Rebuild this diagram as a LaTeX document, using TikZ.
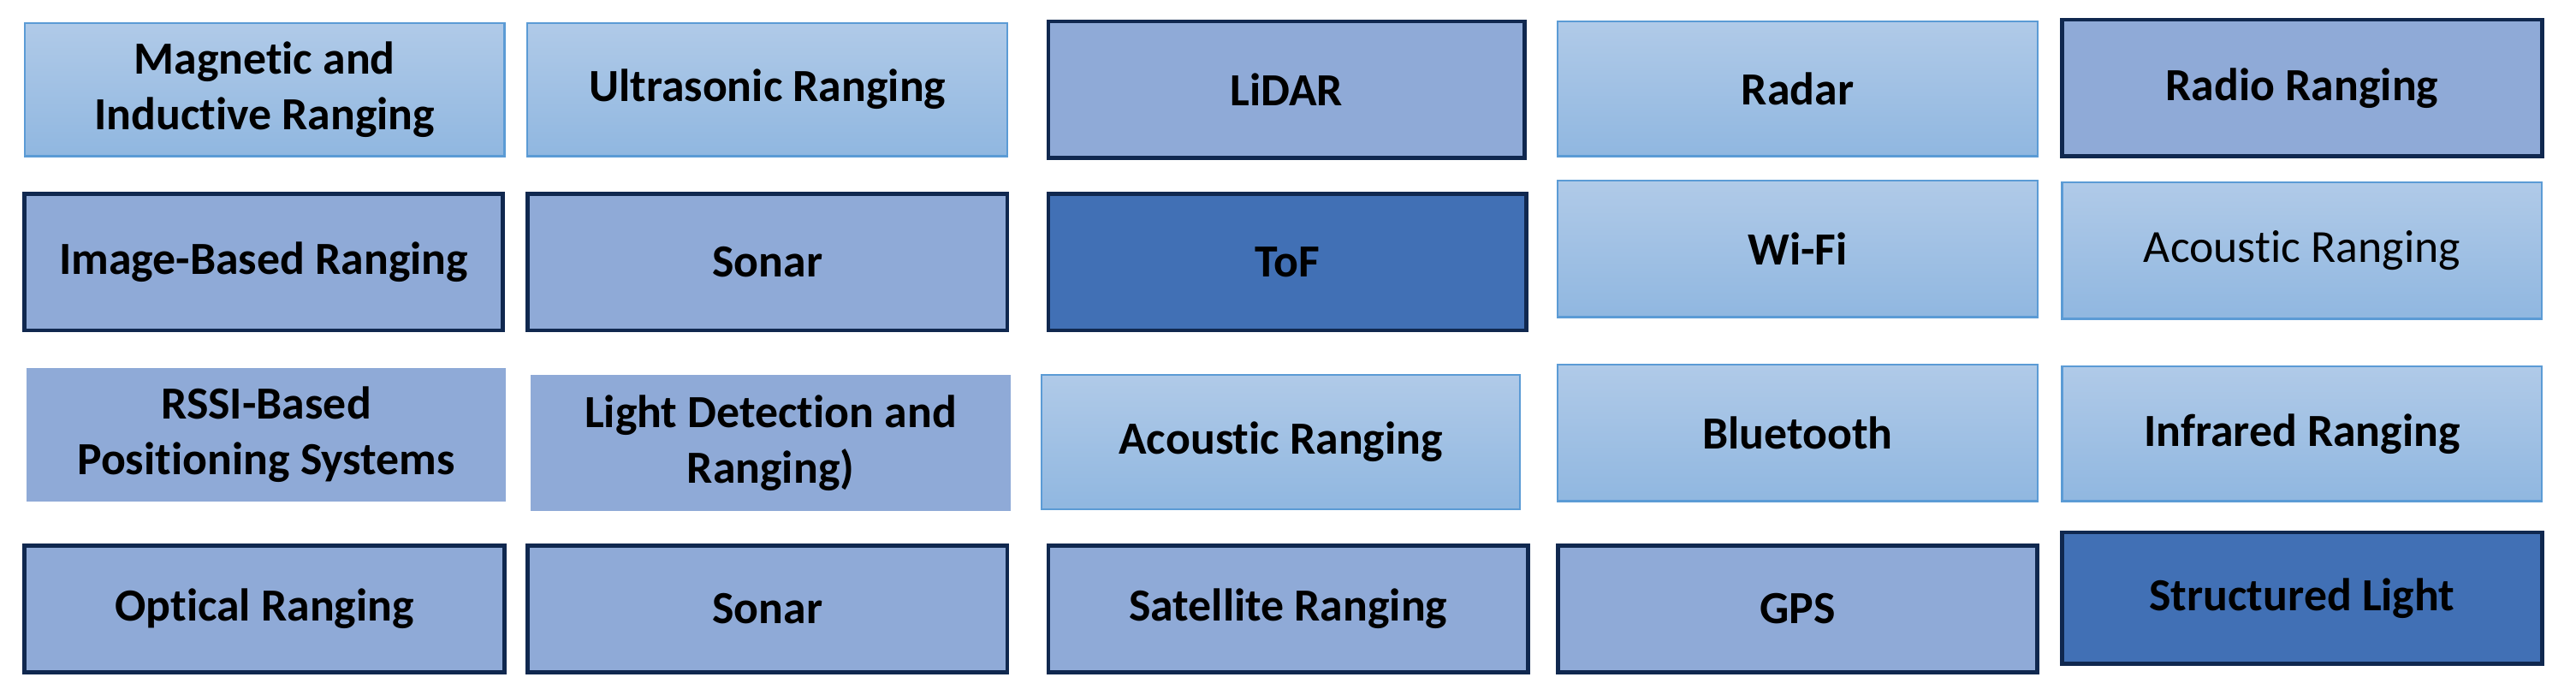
\documentclass[tikz,border=0pt]{standalone}
\usepackage{fontspec}
\setmainfont[Ligatures=NoCommon]{Carlito}
\definecolor{lt}{HTML}{B0CAE8}
\definecolor{lb}{HTML}{90B7E0}
\definecolor{lborder}{HTML}{5B9BD5}
\definecolor{med}{HTML}{8FAAD7}
\definecolor{dk}{HTML}{4170B5}
\definecolor{dborder}{HTML}{10284F}
\begin{document}
\begin{tikzpicture}[x=1pt,y=-1pt,
  box/.style={inner sep=0pt,align=center,font=\fontsize{28}{34}\selectfont\bfseries},
  light/.style={box,top color=lt,bottom color=lb,draw=lborder,line width=1.2pt},
  medb/.style={box,fill=med,draw=dborder,line width=2.5pt},
  medn/.style={box,fill=med},
  dark/.style={box,fill=dk,draw=dborder,line width=2.5pt}]
\useasboundingbox (0,0) rectangle (1567.7,422.4);
\newcommand\bx[6]{\node[#1,minimum width=#4-#2,minimum height=#5-#3] (#6) at ({(#2+#4)/2},{(#3+#5)/2})}
\bx{light}{15}{14}{307}{95}{a1} {Magnetic and\\Inductive Ranging};
\bx{light}{321}{14}{613}{95}{a2} {Ultrasonic Ranging};
\bx{medb}{638}{13}{928}{96}{a3} {LiDAR};
\bx{light}{948}{13}{1240}{95}{a4} {Radar};
\bx{medb}{1255}{12}{1547}{95}{a5} {Radio Ranging};
\bx{medb}{15}{118}{306}{201}{b1} {Image-Based Ranging};
\bx{medb}{321}{118}{613}{201}{b2} {Sonar};
\bx{dark}{638}{118}{929}{201}{b3} {ToF};
\bx{light}{948}{110}{1240}{193}{b4} {Wi-Fi};
\bx{light,font=\fontsize{28}{34}\selectfont}{1255}{111}{1547}{194}{b5} {Acoustic Ranging};
\bx{medn}{16}{224}{308}{305}{c1} {RSSI-Based\\Positioning Systems};
\bx{medn}{323}{228}{615}{311}{c2} {Light Detection and\\Ranging)};
\bx{light}{634}{228}{925}{310}{c3} {Acoustic Ranging};
\bx{light}{948}{222}{1240}{305}{c4} {Bluetooth};
\bx{light}{1255}{223}{1547}{305}{c5} {Infrared Ranging};
\bx{medb}{15}{332}{307}{409}{d1} {Optical Ranging};
\bx{medb}{321}{332}{613}{409}{d2} {Sonar};
\bx{medb}{638}{332}{930}{409}{d3} {Satellite Ranging};
\bx{medb}{948}{332}{1240}{409}{d4} {GPS};
\bx{dark}{1255}{324}{1547}{404}{d5} {Structured Light};
\end{tikzpicture}
\end{document}
